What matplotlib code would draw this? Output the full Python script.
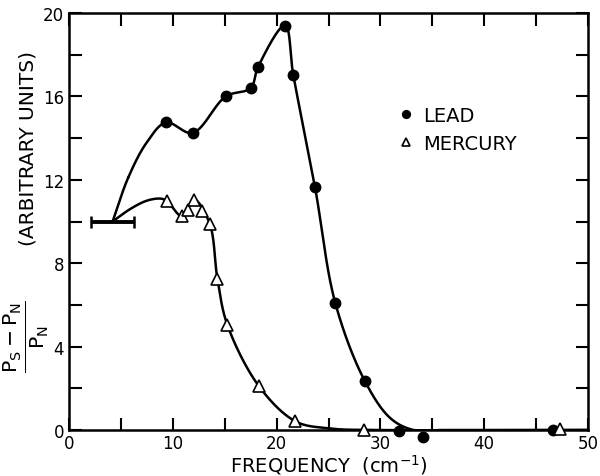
import numpy as np
import matplotlib
matplotlib.use("Agg")
import matplotlib.pyplot as plt
from matplotlib.ticker import MultipleLocator

plt.rcParams['font.family'] = ['DejaVu Sans']
plt.rcParams['mathtext.fontset'] = 'dejavusans'

# Measured points
lead_x = [9.35, 11.9, 15.1, 17.5, 18.2, 20.8, 21.6, 23.7, 25.65, 28.5, 31.8, 34.1, 46.6]
lead_y = [14.75, 14.25, 16.0, 16.4, 17.4, 19.4, 17.05, 11.65, 6.1, 2.35, -0.07, -0.35, 0.02]
merc_x = [9.4, 10.9, 11.5, 12.05, 12.8, 13.55, 14.3, 15.25, 18.3, 21.8, 28.4, 47.3]
merc_y = [11.0, 10.25, 10.55, 11.05, 10.5, 9.9, 7.25, 5.05, 2.1, 0.42, 0.02, 0.05]

# Knots of the hand-drawn smooth guide curves
lead_curve_x = [4.2, 5.7, 7.5, 9.35, 11.9, 15.1, 17.5, 18.2, 20.8, 21.6, 23.7, 25.65, 28.5, 31.0, 33.2, 36.0, 50.0]
lead_curve_y = [10.0, 12.1, 13.8, 14.75, 14.25, 16.0, 16.4, 17.4, 19.4, 17.05, 11.65, 6.1, 2.35, 0.55, 0.0, 0.0, 0.0]
merc_curve_x = [4.2, 5.9, 7.5, 8.8, 9.4, 10.9, 12.05, 13.55, 14.3, 15.25, 18.3, 21.8, 25.0, 30.0, 50.0]
merc_curve_y = [10.0, 10.6, 11.0, 11.1, 11.0, 10.25, 11.05, 9.9, 7.25, 5.05, 2.1, 0.42, 0.08, 0.0, 0.0]

# Error bar (starting point)
err_x = 4.2
err_y = 10.0
err_dx = 2.05

x_ticks_major = [0, 10, 20, 30, 40, 50]
y_ticks_major = [0, 4, 8, 12, 16, 20]


def catmull_rom(xk, yk, n=60, alpha=0.5, yscale=2.0):
    # work in (roughly) screen-proportional coordinates
    P = np.column_stack([xk, np.asarray(yk, float) * yscale]).astype(float)
    P = np.vstack([2 * P[0] - P[1], P, 2 * P[-1] - P[-2]])
    out = []
    for i in range(1, len(P) - 2):
        p0, p1, p2, p3 = P[i - 1], P[i], P[i + 1], P[i + 2]
        t0 = 0.0
        t1 = t0 + np.linalg.norm(p1 - p0) ** alpha
        t2 = t1 + np.linalg.norm(p2 - p1) ** alpha
        t3 = t2 + np.linalg.norm(p3 - p2) ** alpha
        t = np.linspace(t1, t2, n)[:, None]
        A1 = (t1 - t) / (t1 - t0) * p0 + (t - t0) / (t1 - t0) * p1
        A2 = (t2 - t) / (t2 - t1) * p1 + (t - t1) / (t2 - t1) * p2
        A3 = (t3 - t) / (t3 - t2) * p2 + (t - t2) / (t3 - t2) * p3
        B1 = (t2 - t) / (t2 - t0) * A1 + (t - t0) / (t2 - t0) * A2
        B2 = (t3 - t) / (t3 - t1) * A2 + (t - t1) / (t3 - t1) * A3
        C = (t2 - t) / (t2 - t1) * B1 + (t - t1) / (t2 - t1) * B2
        out.append(C)
    C = np.vstack(out)
    return C[:, 0], C[:, 1] / yscale


fig = plt.figure(figsize=(6.0, 4.77), dpi=100)
ax = fig.add_axes([0.115, 0.0964, 0.865, 0.8742])

cx, cy = catmull_rom(lead_curve_x, lead_curve_y)
ax.plot(cx, cy, color='black', lw=1.8, zorder=2)
cx, cy = catmull_rom(merc_curve_x, merc_curve_y)
ax.plot(cx, cy, color='black', lw=1.8, zorder=2)

ax.errorbar([err_x], [err_y], xerr=[err_dx], fmt='none', ecolor='black', elinewidth=2.8,
            capsize=4, capthick=1.8, zorder=3)

ax.plot(lead_x, lead_y, 'o', color='black', ms=7.5, clip_on=False, zorder=4, label='LEAD')
ax.plot(merc_x, merc_y, '^', mfc='white', mec='black', mew=1.2, ms=8.5, clip_on=False,
        zorder=4, label='MERCURY')

ax.set_xlim(0, 50)
ax.set_ylim(0, 20)
ax.set_xticks(x_ticks_major)
ax.set_yticks(y_ticks_major)
ax.xaxis.set_minor_locator(MultipleLocator(5))
ax.yaxis.set_minor_locator(MultipleLocator(2))
ax.tick_params(which='both', direction='in', top=True, right=True, width=1.5, labelsize=12)
ax.tick_params(which='both', length=9)
ax.tick_params(axis='x', pad=3)
for s in ax.spines.values():
    s.set_linewidth(1.8)

ax.set_xlabel(r'FREQUENCY  (cm$^{-1}$)', fontsize=14, labelpad=0)

# y label as two pieces (fraction + units)
fig.text(26 / 600, 1 - 337 / 477, r'$\frac{\mathrm{P_S - P_N}}{\mathrm{P_N}}$',
         rotation=90, ha='center', va='center', fontsize=21)
fig.text(28 / 600, 1 - 148 / 477, '(ARBITRARY UNITS)',
         rotation=90, ha='center', va='center', fontsize=14.5)

leg = ax.legend(loc='upper left', bbox_to_anchor=(0.6, 0.82), frameon=False, fontsize=14,
                handlelength=0.8, handletextpad=0.5, markerscale=0.75, labelspacing=0.5)

fig.savefig('out.png', dpi=100)
